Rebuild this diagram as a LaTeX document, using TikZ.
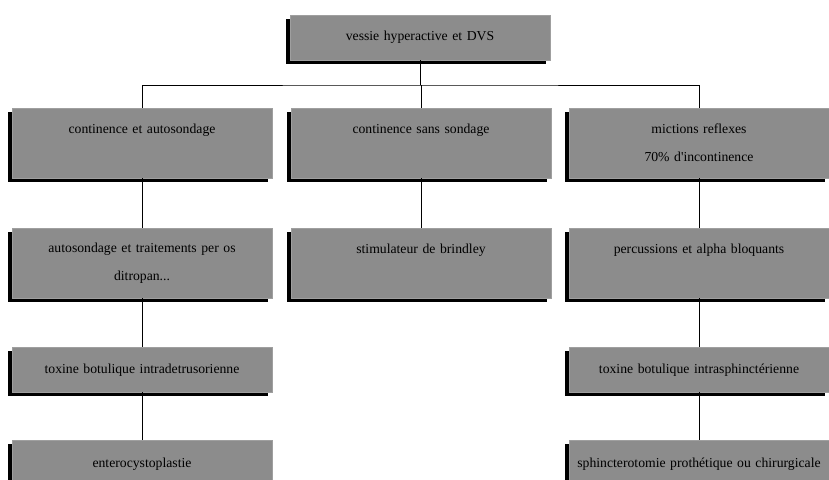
\documentclass[tikz,border=0pt]{standalone}
\usepackage{fontspec}
\setmainfont{Liberation Serif}
\usetikzlibrary{shadows}
\definecolor{boxgray}{RGB}{140,140,140}
\tikzset{
  box/.style={fill=boxgray, draw=gray!75, line width=0.4pt,
    minimum width=260pt, minimum height=#1, text width=254pt,
    align=center, inner sep=0pt, anchor=north,
    font=\fontsize{13.7}{28}\selectfont,
    drop shadow={shadow xshift=-4pt, shadow yshift=-4pt, fill=black, opacity=1}},
  box/.default=45pt,
  link/.style={line width=0.8pt}
}
\begin{document}
\begin{tikzpicture}[x=1pt,y=-1pt]
\useasboundingbox (0,0) rectangle (829,479);
% top positions of the boxes
\coordinate (T) at (420,15);
\coordinate (L1) at (142,108);
\coordinate (M1) at (421,108);
\coordinate (R1) at (699,108);
\coordinate (L2) at (142,228);
\coordinate (M2) at (421,228);
\coordinate (R2) at (699,228);
\coordinate (L3) at (142,347);
\coordinate (R3) at (699,347);
\coordinate (L4) at (142,440);
\coordinate (R4) at (699,440);
\coordinate (bus) at (420,85);
% boxes
\node[box] (top) at (T) {vessie hyperactive et DVS};
\node[box=70pt] (cont) at (L1) {continence et autosondage\\\mbox{}};
\node[box=70pt] (sans) at (M1) {continence sans sondage\\\mbox{}};
\node[box=70pt] (mict) at (R1) {mictions reflexes\\70\% d\textquotesingle incontinence};
\node[box=70pt] (auto) at (L2) {autosondage et traitements per os\\ditropan...};
\node[box=70pt] (stim) at (M2) {stimulateur de brindley\\\mbox{}};
\node[box=70pt] (perc) at (R2) {percussions et alpha bloquants\\\mbox{}};
\node[box] (toxd) at (L3) {toxine botulique intradetrusorienne};
\node[box] (toxs) at (R3) {toxine botulique intrasphinctérienne};
% the last row runs past the bottom edge
\node[box=74pt] (ente) at (L4) {enterocystoplastie\\\mbox{}};
\node[box=74pt] (sphi) at (R4) {sphincterotomie prothétique ou chirurgicale\\\mbox{}};
% connectors
\draw[link] (top.south) -- (bus);
\draw[link] (cont.north) |- (bus) -| (mict.north);
\draw[link] (sans.north |- bus) -- (sans.north);
\draw[link] (cont.south) -- (auto.north);
\draw[link] (auto.south) -- (toxd.north);
\draw[link] (toxd.south) -- (ente.north);
\draw[link] (sans.south) -- (stim.north);
\draw[link] (mict.south) -- (perc.north);
\draw[link] (perc.south) -- (toxs.north);
\draw[link] (toxs.south) -- (sphi.north);
\end{tikzpicture}
\end{document}
